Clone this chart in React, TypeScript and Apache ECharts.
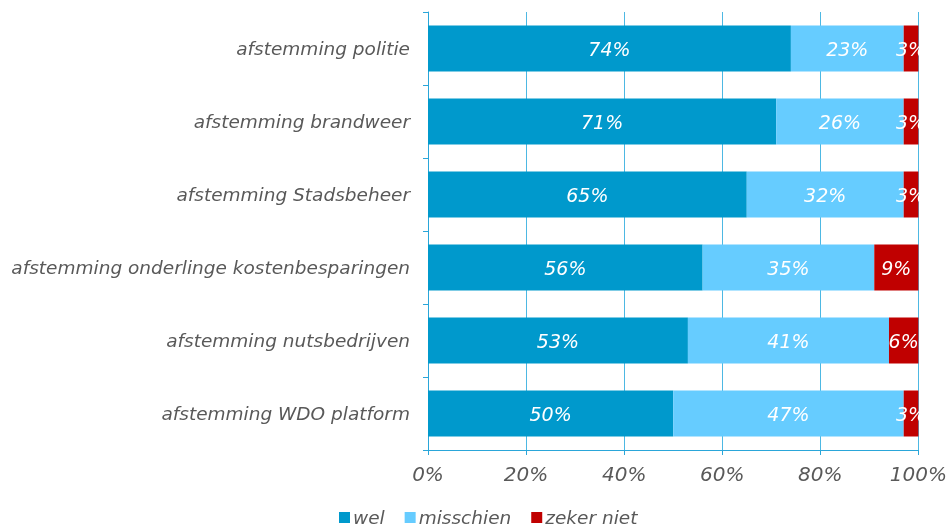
import React, { useEffect, useRef } from "react";
import * as echarts from "echarts";

const categories = [
  "afstemming politie",
  "afstemming brandweer",
  "afstemming Stadsbeheer",
  "afstemming onderlinge kostenbesparingen",
  "afstemming nutsbedrijven",
  "afstemming WDO platform",
];
const wel = [74, 71, 65, 56, 53, 50];
const misschien = [23, 26, 32, 35, 41, 47];
const zekerNiet = [3, 3, 3, 9, 6, 3];
const seriesNames = ["wel", "misschien", "zeker niet"];
const seriesColors = ["#0099CC", "#66CCFF", "#C00000"];

const FONT = "DejaVu Sans";

export default function App() {
  const ref = useRef<HTMLDivElement>(null);
  useEffect(() => {
    if (!ref.current) return;
    const chart = echarts.init(ref.current, undefined, { renderer: "svg" });
    const datasets = [wel, misschien, zekerNiet];
    chart.setOption({
      animation: false,
      textStyle: { fontFamily: FONT },
      grid: { left: 428, right: 31, top: 12, bottom: 79, containLabel: false },
      legend: {
        top: 508,
        left: 339,
        padding: 0,
        itemWidth: 11,
        itemHeight: 11,
        itemGap: 20,
        icon: "rect",
        data: seriesNames,
        textStyle: {
          fontFamily: FONT,
          fontStyle: "italic",
          fontSize: 18.5,
          lineHeight: 19,
          color: "#595959",
          padding: [0, 0, 0, -2],
        },
      },
      xAxis: {
        type: "value",
        min: 0,
        max: 100,
        interval: 20,
        axisLine: { show: true, lineStyle: { color: "#2AA6D9", width: 1 } },
        axisTick: { show: true, length: 5, lineStyle: { color: "#2AA6D9" } },
        splitLine: { show: true, lineStyle: { color: "#4DB8E3", width: 1 } },
        axisLabel: {
          formatter: "{value}%",
          fontFamily: FONT,
          fontStyle: "italic",
          fontSize: 20,
          color: "#595959",
          margin: 14,
        },
      },
      yAxis: {
        type: "category",
        inverse: true,
        data: categories,
        axisLine: { show: true, lineStyle: { color: "#2AA6D9", width: 1 } },
        axisTick: { show: true, length: 5, lineStyle: { color: "#2AA6D9" } },
        axisLabel: {
          fontFamily: FONT,
          fontStyle: "italic",
          fontSize: 18.5,
          color: "#595959",
          margin: 18,
        },
      },
      series: seriesNames.map((name, i) => ({
        name,
        type: "bar",
        stack: "total",
        barCategoryGap: "37%",
        data: datasets[i],
        itemStyle: { color: seriesColors[i] },
        label: {
          show: true,
          position: "inside",
          formatter: "{c}%",
          color: "#FFFFFF",
          fontFamily: FONT,
          fontStyle: "italic",
          fontSize: 19,
        },
      })),
    });
    return () => chart.dispose();
  }, []);
  return (
    <div
      ref={ref}
      style={{ position: "fixed", left: 0, top: 0, width: 950, height: 529 }}
    />
  );
}
